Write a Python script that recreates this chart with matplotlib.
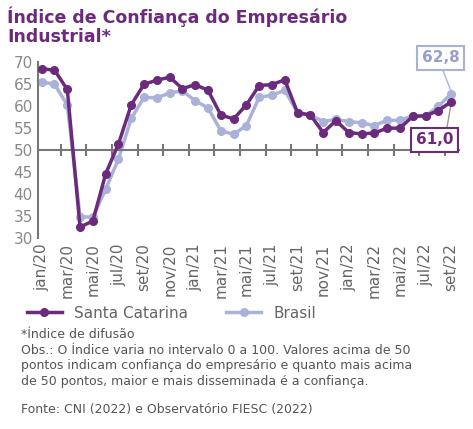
import matplotlib
matplotlib.use("Agg")
import matplotlib.pyplot as plt
import matplotlib.transforms as mtrans
import numpy as np

months = ["jan/20","fev/20","mar/20","abr/20","mai/20","jun/20","jul/20","ago/20","set/20","out/20","nov/20","dez/20",
          "jan/21","fev/21","mar/21","abr/21","mai/21","jun/21","jul/21","ago/21","set/21","out/21","nov/21","dez/21",
          "jan/22","fev/22","mar/22","abr/22","mai/22","jun/22","jul/22","ago/22","set/22"]
sc = [68.5,68.2,63.8,32.5,33.9,44.6,51.4,60.3,65.0,65.9,66.6,64.0,64.9,63.6,58.0,57.1,60.3,64.7,64.9,66.0,58.5,58.0,54.0,56.7,54.0,53.7,53.9,55.0,55.0,57.7,57.8,59.0,61.0]
br = [65.5,65.0,60.3,34.8,34.8,41.1,48.0,57.2,62.0,61.9,63.0,63.5,61.2,59.6,54.4,53.6,55.6,62.0,62.5,63.6,58.5,58.0,56.5,57.0,56.5,56.2,55.6,56.8,56.8,57.8,57.8,60.0,62.8]
c_sc = "#6b2a7c"; c_br = "#aab2d8"

fig = plt.figure(figsize=(4.73,4.29), dpi=100)
ax = fig.add_axes([0.08,0.445,0.89,0.41])
x = np.arange(len(months))
lb, = ax.plot(x, br, color=c_br, lw=2.5, marker="o", ms=5.5, label="Brasil", zorder=2)
ls, = ax.plot(x, sc, color=c_sc, lw=2.5, marker="o", ms=5.5, label="Santa Catarina", zorder=3)
ax.set_ylim(30,70); ax.set_xlim(-0.3,32.6)
ax.set_yticks(range(30,71,5))
for s in ["top","right"]: ax.spines[s].set_visible(False)
ax.spines["bottom"].set_position(("data",50))
for s in ["left","bottom"]:
    ax.spines[s].set_color("#777777"); ax.spines[s].set_linewidth(1.5)
ax.set_xticks(np.arange(1.5,33,2)[:16])
ax.set_xticklabels([])
ax.tick_params(axis="x", direction="inout", length=8, color="#777777", width=1.5)
ax.tick_params(axis="y", length=0, labelsize=11, labelcolor="#888888")
tr = mtrans.blended_transform_factory(ax.transData, ax.transAxes)
for i in range(0,33,2):
    ax.text(i, -0.03, months[i], rotation=90, ha="center", va="top", transform=tr, fontsize=11, color="#666666")
ax.text(31.2, 71, "62,8", ha="center", va="center", fontsize=11, color="#999fc8", fontweight="bold",
        bbox=dict(boxstyle="square,pad=0.3", fc="white", ec=c_br, lw=1.5), clip_on=False)
ax.plot([31.2,32],[69.3,63.4], color=c_br, lw=1)
ax.text(30.7, 52.4, "61,0", ha="center", va="center", fontsize=11, color=c_sc, fontweight="bold",
        bbox=dict(boxstyle="square,pad=0.3", fc="white", ec=c_sc, lw=1.5))
ax.plot([31.6,32],[54,60.5], color="#999999", lw=1)
fig.text(0.015,0.985,"Índice de Confiança do Empresário\nIndustrial*", ha="left", va="top", fontsize=12.5, fontweight="bold", color=c_sc, linespacing=1.1)
fig.legend(handles=[ls, lb], loc="upper left", bbox_to_anchor=(0.04,0.305), ncol=2, frameon=False,
           fontsize=11, labelcolor="#666666", handlelength=2.3, columnspacing=2.5, borderpad=0)
fig.text(0.045,0.235,"*Índice de difusão\nObs.: O Índice varia no intervalo 0 a 100. Valores acima de 50\npontos indicam confiança do empresário e quanto mais acima\nde 50 pontos, maior e mais disseminada é a confiança.",
         fontsize=9, color="#555555", va="top", linespacing=1.25)
fig.text(0.045,0.06,"Fonte: CNI (2022) e Observatório FIESC (2022)", fontsize=9, color="#555555", va="top")
fig.savefig("out.png", dpi=100)
